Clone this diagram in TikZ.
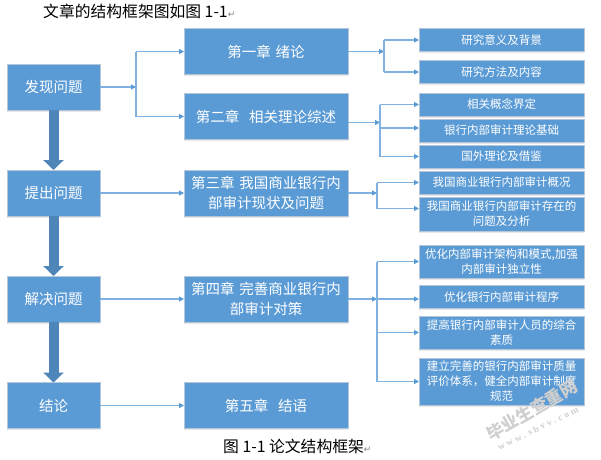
\documentclass[tikz,border=0pt]{standalone}
\usepackage{fontspec}
\setmainfont{Noto Sans CJK SC}
\newfontfamily\symfont{DejaVu Sans}
\newfontfamily\sitefont{Liberation Serif}
\usetikzlibrary{arrows.meta,shadows}
\definecolor{boxblue}{HTML}{5B9BD5}
\definecolor{boxedge}{HTML}{B4C7D9}
\definecolor{darkblue}{HTML}{4F86BA}
\definecolor{linkblue}{HTML}{7FB2E0}
\definecolor{markgrey}{HTML}{CFCFCF}
\tikzset{
    bluebox/.style={draw=boxedge, line width=0.9pt, fill=boxblue, text=white, inner sep=0pt, outer sep=0pt, align=center,
        drop shadow={opacity=0.18, shadow xshift=0pt, shadow yshift=-1.5pt}},
    stagebox/.style={bluebox, minimum width=93pt, minimum height=46pt, font=\fontsize{14.5}{17}\selectfont},
    chapbox/.style={bluebox, minimum width=164pt, minimum height=46pt, text width=160pt, font=\fontsize{14.5}{19.5}\selectfont},
    subbox/.style={bluebox, minimum width=165pt, minimum height=23pt, text width=160pt, font=\fontsize{11.5}{15}\selectfont},
    link/.style={linkblue, line width=1.1pt, -{Triangle[length=5pt,width=5pt,color=boxblue]}},
    stem/.style={linkblue, line width=1.1pt},
    bigarrow/.style={darkblue, line width=10pt, -{Triangle[length=10pt,width=20pt]}},
    plaintext/.style={inner sep=0pt, anchor=west, font=\fontsize{15.8}{18}\selectfont},
    watermark/.style={markgrey, inner sep=0pt}
}
\begin{document}
\begin{tikzpicture}[x=1pt,y=-1pt]
    \useasboundingbox (0,0) rectangle (601,459);

    \node[plaintext] (heading) at (43,11) {文章的结构框架图如图 1-1{\symfont\fontsize{9}{9}\selectfont\color{gray}↵}};
    \node[plaintext] (caption) at (223,446) {图 1-1 论文结构框架{\symfont\fontsize{9}{9}\selectfont\color{gray}↵}};

    % left column
    \node[stagebox] (find) at (53.5,87) {发现问题};
    \node[stagebox] (raise) at (53.5,193) {提出问题};
    \node[stagebox] (solve) at (53.5,299) {解决问题};
    \node[stagebox] (end) at (53.5,405.5) {结论};

    % chapters
    \node[chapbox] (ch1) at (266,51.5) {第一章 绪论};
    \node[chapbox] (ch2) at (266,116.5) {第二章\ \ 相关理论综述};
    \node[chapbox] (ch3) at (266,193) {第三章 我国商业银行内\\部审计现状及问题};
    \node[chapbox] (ch4) at (266,299) {第四章 完善商业银行内\\部审计对策};
    \node[chapbox] (ch5) at (266,405.5) {第五章\ \ 结语};

    % sections
    \node[subbox] (s11) at (501.5,40) {研究意义及背景};
    \node[subbox] (s12) at (501.5,72) {研究方法及内容};
    \node[subbox] (s21) at (501.5,104.5) {相关概念界定};
    \node[subbox] (s22) at (501.5,130.5) {银行内部审计理论基础};
    \node[subbox] (s23) at (501.5,156.5) {国外理论及借鉴};
    \node[subbox] (s31) at (501.5,182.5) {我国商业银行内部审计概况};
    \node[subbox, minimum height=34pt] (s32) at (501.5,214) {我国商业银行内部审计存在的\\问题及分析};
    \node[subbox, minimum height=33pt] (s41) at (501.5,261.5) {优化内部审计架构和模式,加强\\内部审计独立性};
    \node[subbox] (s42) at (501.5,297) {优化银行内部审计程序};
    \node[subbox, minimum height=33pt] (s43) at (501.5,332.5) {提高银行内部审计人员的综合\\素质};
    \node[subbox, minimum height=47pt] (s44) at (501.5,381.5) {建立完善的银行内部审计质量\\评价体系，健全内部审计制度\\规范};

    \coordinate (j0) at (136,87);
    \coordinate (j1) at (384,51.5);
    \coordinate (j2) at (380,122.5);
    \coordinate (j3) at (377,193);
    \coordinate (j4) at (377,299);

    % big arrows
    \draw[bigarrow] (find.south) -- (raise.north);
    \draw[bigarrow] (raise.south) -- (solve.north);
    \draw[bigarrow] (solve.south) -- (end.north);

    % links
    \draw[link] (find.east) -- (j0);
    \draw[stem] (j0 |- ch1) -- (j0 |- ch2);
    \draw[link] (j0 |- ch1) -- (ch1.west);
    \draw[link] (j0 |- ch2) -- (ch2.west);
    \draw[link] (raise.east) -- (ch3.west);
    \draw[link] (solve.east) -- (ch4.west);
    \draw[link] (end.east) -- (ch5.west);

    \draw[link] (ch1.east) -- (j1);
    \draw[stem] (j1 |- s11) -- (j1 |- s12);
    \draw[link] (j1 |- s11) -- (s11.west);
    \draw[link] (j1 |- s12) -- (s12.west);

    \draw[link] ([yshift=-6pt]ch2.east) -- (j2);
    \draw[stem] (j2 |- s21) -- (j2 |- s23);
    \draw[link] (j2 |- s21) -- (s21.west);
    \draw[link] ([yshift=2.5pt]j2 |- s22) -- ([yshift=2.5pt]s22.west);
    \draw[link] (j2 |- s23) -- (s23.west);

    \draw[link] (ch3.east) -- (j3);
    \draw[stem] (j3 |- s31) -- ([yshift=5.5pt]j3 |- s32);
    \draw[link] (j3 |- s31) -- (s31.west);
    \draw[link] ([yshift=5.5pt]j3 |- s32) -- ([yshift=5.5pt]s32.west);

    \draw[link] (ch4.east) -- (j4);
    \draw[stem] (j4 |- s41) -- (j4 |- s44);
    \draw[link] (j4 |- s41) -- (s41.west);
    \draw[link] (j4) -- ([yshift=-2pt]s42.west);
    \draw[link] (j4 |- s43) -- (s43.west);
    \draw[link] (j4 |- s44) -- (s44.west);

    % site mark
    \node[watermark, rotate=30, font=\bfseries\fontsize{17}{17}\selectfont] (mark) at (532,410) {毕业生查重网};
    \node[watermark, rotate=26, font=\sitefont\bfseries\fontsize{9.5}{9.5}\selectfont] (site) at (538,428) {w w w . s b v v . c o m};
\end{tikzpicture}
\end{document}
